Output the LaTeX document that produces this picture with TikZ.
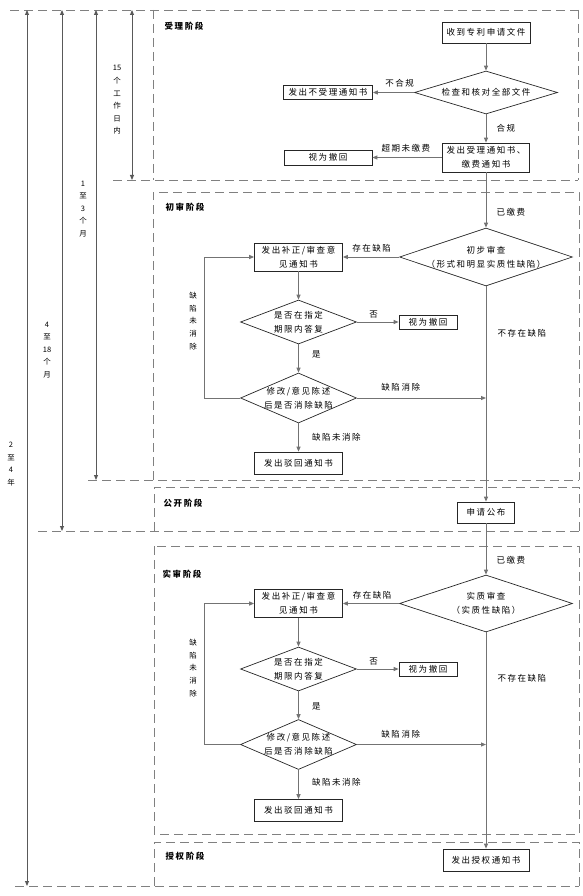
\documentclass[tikz,border=0pt]{standalone}
\usepackage{fontspec}
\setmainfont{Noto Sans CJK SC}[LetterSpace=18]
\newfontfamily\spanfont{Noto Sans CJK SC}
\usetikzlibrary{shapes.geometric,arrows.meta,positioning}

\tikzstyle{stepbox} = [align=center,draw=black!85,line width=0.7pt,rectangle,fill=white,inner sep=1pt,font=\fontsize{8.5pt}{14pt}\selectfont]
\tikzstyle{decision} = [diamond,draw=black!85,line width=0.7pt,inner sep=0pt,fill=white]
\tikzstyle{inlabel} = [align=center,inner sep=0pt,font=\fontsize{8.5pt}{14pt}\selectfont]
\tikzstyle{flow} = [->,draw=black!55,line width=1pt]
\tikzstyle{tag} = [inner sep=1pt,font=\fontsize{8.5pt}{10pt}\selectfont]
\tikzstyle{stage} = [draw=black!50,line width=0.9pt,dash pattern=on 9pt off 5pt]
\tikzstyle{phase} = [inner sep=0pt,font=\bfseries\fontsize{8.5pt}{10pt}\selectfont]
\tikzstyle{span} = [<->,draw=black!65,line width=0.9pt]
\tikzstyle{vtext} = [align=center,inner sep=0pt,font=\spanfont\fontsize{7.5pt}{12.6pt}\selectfont]

\begin{document}
\begin{tikzpicture}[x=1pt,y=-1pt,>={Triangle[length=5pt,width=4pt]}]
	\useasboundingbox (0,0) rectangle (582,896);
	% stage frames
	\draw [stage] (10,10) -- (578,10);
	\draw [stage] (153,10) -- (153,180);
	\draw [stage] (578,10) -- (578,180);
	\draw [stage] (113,180) -- (578,180);
	\draw [stage] (153,480) -- (153,192) -- (579,192) -- (579,480);
	\draw [stage] (88,480) -- (579,480);
	\draw [stage] (154,531) -- (154,487) -- (579,487) -- (579,531);
	\draw [stage] (38,531) -- (579,531);
	\draw [stage] (154,546) rectangle (579,834);
	\draw [stage] (154,886) -- (154,842) -- (579,842) -- (579,886);
	\draw [stage] (15,886) -- (579,886);
	% time spans
	\foreach \name/\x/\y in {year/27/886,month/62/531,quarter/96/480,day/132/180} {
		\coordinate (\name-top) at (\x,10);
		\coordinate (\name-end) at (\x,\y);
		\draw [span] (\name-top) -- (\name-end);
	}
	\node (daytext) [vtext] at (117,100) {15\\个\\工\\作\\日\\内};
	\node (quartertext) [vtext] at (83,209) {1\\至\\3\\个\\月};
	\node (monthtext) [vtext] at (47,350) {4\\至\\18\\个\\月};
	\node (yeartext) [vtext] at (11,464) {2\\至\\4\\年};
	% phase titles
	\node (phase1) [phase] at (184,26) {受理阶段};
	\node (phase2) [phase] at (185,207) {初审阶段};
	\node (phase3) [phase] at (183,503) {公开阶段};
	\node (phase4) [phase] at (182,574) {实审阶段};
	\node (phase5) [phase] at (185,856) {授权阶段};
	% acceptance
	\node (recv) [stepbox,minimum width=88pt,minimum height=21pt] at (486,32.5) {收到专利申请文件};
	\node (check) [decision,below of=recv,node distance=60pt,minimum width=143pt,minimum height=43pt] {};
	\node (checktext) [inlabel] at (check) {检查和核对全部文件};
	\node (reject) [stepbox,left of=check,node distance=158pt,minimum width=89pt,minimum height=13.5pt] {发出不受理通知书};
	\node (accept) [stepbox,below of=check,node distance=65pt,minimum width=87pt,minimum height=29pt] {发出受理通知书、\\缴费通知书};
	\node (withdraw) [stepbox,left of=accept,node distance=158pt,minimum width=88pt,minimum height=15pt] {视为撤回};
	% preliminary examination
	\node (prelim) [decision,below of=accept,node distance=99.5pt,minimum width=173pt,minimum height=58pt] {};
	\node (prelimtext) [inlabel] at (prelim) {初步审查\\（形式和明显实质性缺陷）};
	\node (fix) [stepbox,left of=prelim,node distance=187.5pt,minimum width=88pt,minimum height=28pt] {发出补正/审查意\\见通知书};
	\node (reply) [decision,below of=fix,node distance=65pt,minimum width=116pt,minimum height=44pt] {};
	\node (replytext) [inlabel] at (reply) {是否在指定\\期限内答复};
	\node (withdrawB) [stepbox,right of=reply,node distance=129.5pt,minimum width=58pt,minimum height=14pt] {视为撤回};
	\node (amend) [decision,below of=reply,node distance=76pt,minimum width=116pt,minimum height=50pt] {};
	\node (amendtext) [inlabel] at (amend) {修改/意见陈述\\后是否消除缺陷};
	\node (rejectB) [stepbox,below of=amend,node distance=65pt,minimum width=88pt,minimum height=22pt] {发出驳回通知书};
	\coordinate (joinA) at (prelim |- amend);
	\node (loopA) [vtext] at (193,321) {缺\\陷\\未\\消\\除};
	% publication
	\node (publish) [stepbox,below of=prelim,node distance=255.5pt,minimum width=57pt,minimum height=21pt] {申请公布};
	% substantive examination
	\node (exam) [decision,below of=publish,node distance=91pt,minimum width=173pt,minimum height=57pt] {};
	\node (examtext) [inlabel] at (exam) {实质审查\\（实质性缺陷）};
	\node (fixB) [stepbox,left of=exam,node distance=187.5pt,minimum width=88pt,minimum height=28pt] {发出补正/审查意\\见通知书};
	\node (replyB) [decision,below of=fixB,node distance=65.5pt,minimum width=116pt,minimum height=44pt] {};
	\node (replyBtext) [inlabel] at (replyB) {是否在指定\\期限内答复};
	\node (withdrawC) [stepbox,right of=replyB,node distance=129.5pt,minimum width=58pt,minimum height=14pt] {视为撤回};
	\node (amendB) [decision,below of=replyB,node distance=75.5pt,minimum width=116pt,minimum height=50pt] {};
	\node (amendBtext) [inlabel] at (amendB) {修改/意见陈述\\后是否消除缺陷};
	\node (rejectC) [stepbox,below of=amendB,node distance=66pt,minimum width=88pt,minimum height=22pt] {发出驳回通知书};
	\coordinate (joinB) at (exam |- amendB);
	\node (loopB) [vtext] at (193,668) {缺\\陷\\未\\消\\除};
	% grant
	\node (grant) [stepbox,below of=exam,node distance=256.5pt,minimum width=86pt,minimum height=22pt] {发出授权通知书};
	% connectors
	\draw [flow] (recv) -- (check);
	\draw [flow] (check) -- node[tag,above=4pt,pos=0.35] {不合规} (reject);
	\draw [flow] (check) -- node[tag,right=9pt,pos=0.5] {合规} (accept);
	\draw [flow] (accept) -- node[tag,above=4pt,pos=0.52] {超期未缴费} (withdraw);
	\draw [flow] (accept) -- node[tag,right=9pt,pos=0.73] {已缴费} (prelim);
	\draw [flow] (prelim) -- node[tag,above=3pt,pos=0.49] {存在缺陷} (fix);
	\draw [flow] (fix) -- (reply);
	\draw [flow] (reply) -- node[tag,above=2pt,pos=0.4] {否} (withdrawB);
	\draw [flow] (reply) -- node[tag,right=12pt,pos=0.35] {是} (amend);
	\draw [flow] (amend) -- node[tag,above=5pt,pos=0.34] {缺陷消除} (joinA);
	\draw [flow] (amend) -- node[tag,right=12pt,pos=0.48] {缺陷未消除} (rejectB);
	\draw [flow] (amend.west) -- ++(-36,0) |- (fix.west);
	\draw [flow] (prelim) -- node[tag,right=10pt,pos=0.22] {不存在缺陷} (publish);
	\draw [flow] (publish) -- node[tag,right=9pt,pos=0.71] {已缴费} (exam);
	\draw [flow] (exam) -- node[tag,above=3pt,pos=0.48] {存在缺陷} (fixB);
	\draw [flow] (fixB) -- (replyB);
	\draw [flow] (replyB) -- node[tag,above=2pt,pos=0.4] {否} (withdrawC);
	\draw [flow] (replyB) -- node[tag,right=12pt,pos=0.55] {是} (amendB);
	\draw [flow] (amendB) -- node[tag,above=5pt,pos=0.34] {缺陷消除} (joinB);
	\draw [flow] (amendB) -- node[tag,right=12pt,pos=0.43] {缺陷未消除} (rejectC);
	\draw [flow] (amendB.west) -- ++(-36,0) |- (fixB.west);
	\draw [flow] (exam) -- node[tag,right=10pt,pos=0.21] {不存在缺陷} (grant);
\end{tikzpicture}
\end{document}
